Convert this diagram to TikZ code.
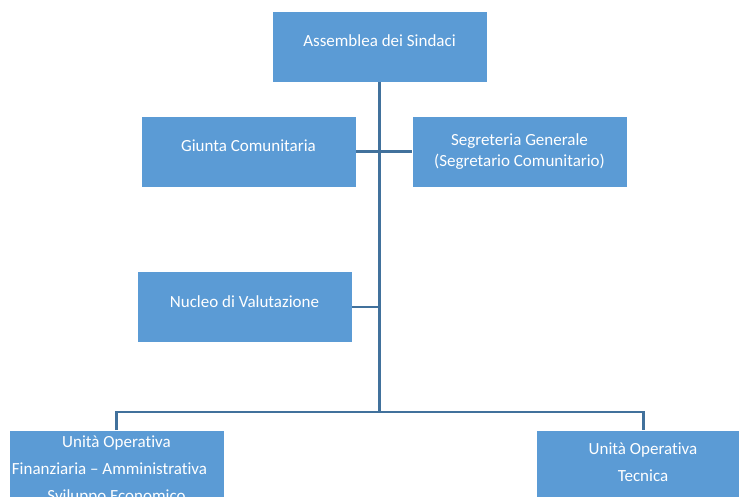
\documentclass[tikz,border=0pt]{standalone}
\usepackage{fontspec}
\setmainfont[Ligatures=NoCommon]{Carlito}
\definecolor{boxblue}{HTML}{5B9BD5}
\definecolor{linkblue}{HTML}{41719C}
\begin{document}
\begin{tikzpicture}[x=1pt,y=-1pt,
  orgbox/.style={rectangle, fill=boxblue, draw=white, line width=0.8pt, minimum width=215pt, minimum height=71pt, inner sep=0pt, text=white, font={\fontsize{17}{20.5}\selectfont}, align=center},
  oneline/.style={text height=6pt, text depth=6pt},
  plainbox/.style={rectangle, fill=boxblue, draw=white, line width=0.8pt, inner sep=0pt},
  boxtext/.style={inner sep=0pt, text=white, font={\fontsize{17}{27}\selectfont}, align=center},
  link/.style={draw=linkblue, line width=2.5pt}]
\useasboundingbox (0,0) rectangle (739,497);
\clip (0,0) rectangle (739,497);
\node[orgbox, oneline] (ass) at (379.5,46.5) {Assemblea dei Sindaci};
\node[orgbox, oneline] (giu) at (248.5,151.5) {Giunta Comunitaria};
\node[orgbox] (seg) at (519.5,151.5) {Segreteria Generale\\(Segretario Comunitario)};
\node[orgbox, oneline] (nuc) at (244.5,307) {Nucleo di Valutazione};
\node[plainbox, minimum width=215pt, minimum height=90pt, anchor=north] (uof) at (116.5,430) {};
\node[plainbox, minimum width=215pt, minimum height=90pt, anchor=north] (uot) at (643.5,430) {};
\node[boxtext, anchor=north] (uoftext) at (116.5,436) {Unità Operativa\\Finanziaria – Amministrativa\rule{14pt}{0pt}\\Sviluppo Economico};
\node[boxtext, anchor=north] (uottext) at (643,443) {Unità Operativa\\Tecnica};
\coordinate (bus) at (379.5,412);
\draw[link] (ass.south) -- (bus);
\draw[link] (giu.east) -- (seg.west);
\draw[link] (nuc.east) -- (nuc.east -| bus);
\draw[link] (uof.north) |- (bus) -| (uot.north);
\end{tikzpicture}
\end{document}
